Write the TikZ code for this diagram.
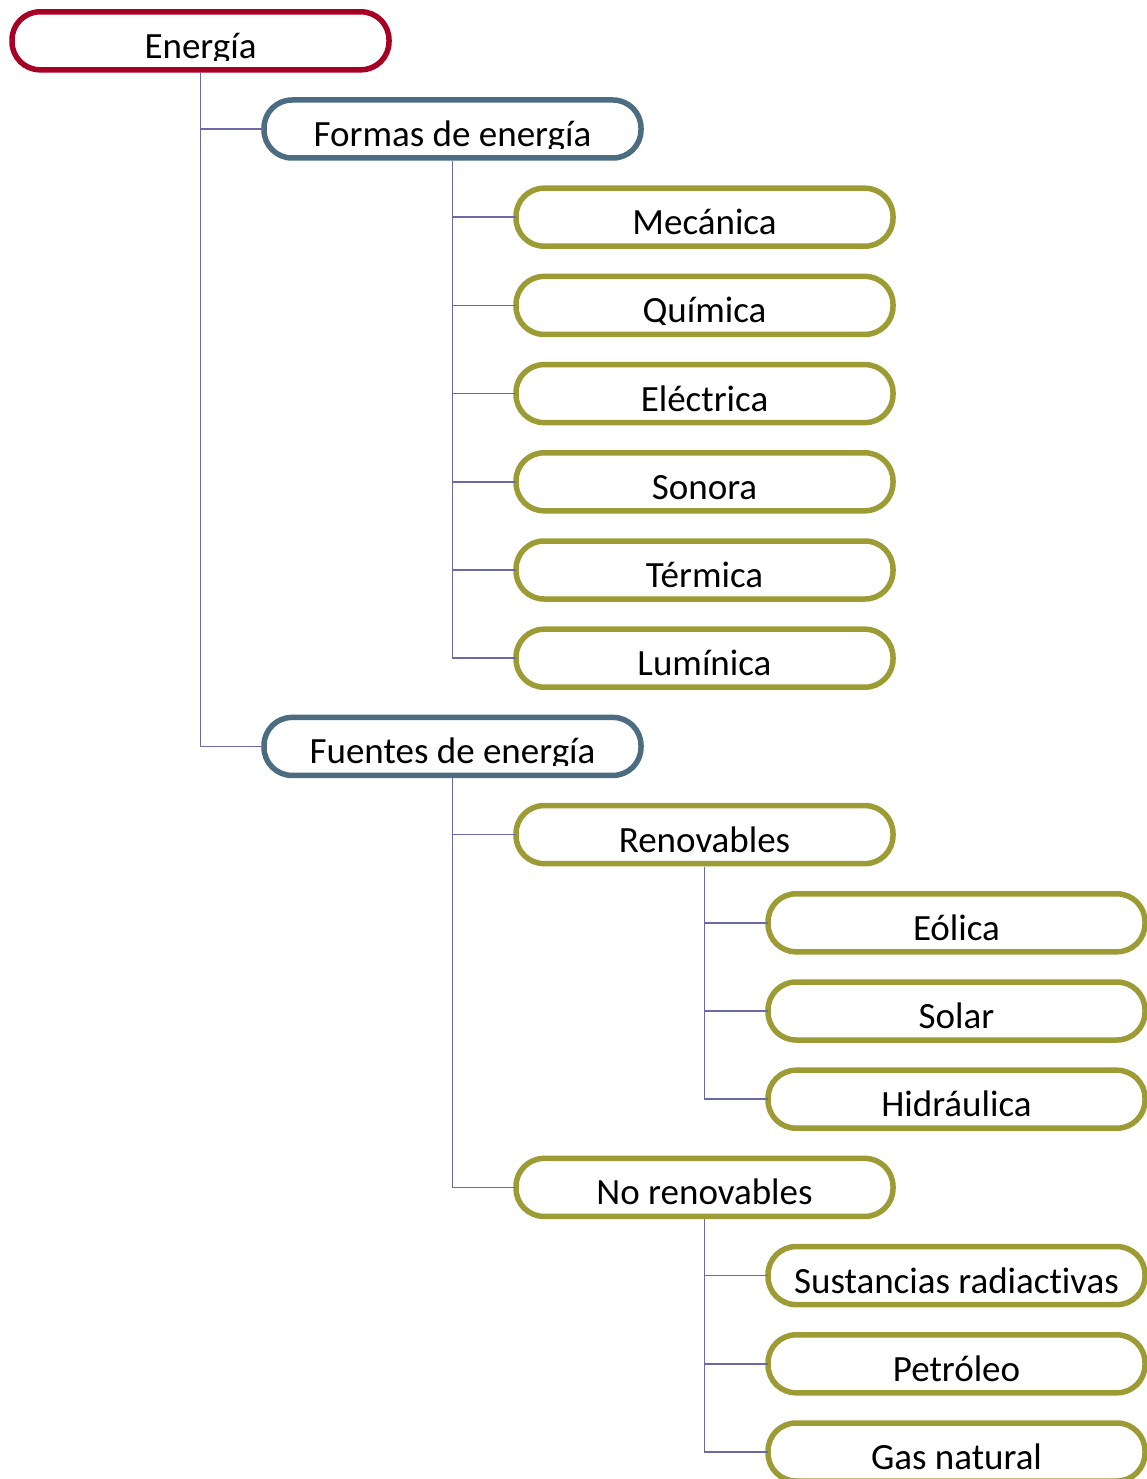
\documentclass[tikz,border=0pt]{standalone}
\usepackage{fontspec}
\setmainfont[Ligatures=NoCommon]{Carlito}
\definecolor{cred}{RGB}{166,0,36}
\definecolor{cslate}{RGB}{76,108,130}
\definecolor{colive}{RGB}{156,155,52}
\definecolor{clink}{RGB}{108,106,166}
\tikzset{
  pill/.style={draw=#1, line width=5.5pt, fill=white, rounded corners=28pt,
    minimum width=377pt, minimum height=58pt, inner sep=0pt, outer sep=0pt},
  lbl/.style={path picture={
      \clip ([xshift=-200pt]path picture bounding box.north) rectangle ([xshift=200pt,yshift=-19.5pt]path picture bounding box.center);
      \node[anchor=base, inner sep=0pt, font=\fontsize{37}{44}\selectfont] at ([yshift=-17.5pt]path picture bounding box.center) {#1};}},
  top/.style={pill=cred, lbl=#1},
  mid/.style={pill=cslate, lbl=#1},
  leaf/.style={pill=colive, lbl=#1},
  link/.style={draw=clink, line width=1.6pt}
}
\begin{document}
\begin{tikzpicture}[x=1pt,y=-1pt]
\useasboundingbox (0,0) rectangle (1147,1479);
\def\p{88.2}
\def\xa{200.5}\def\xb{452.5}\def\xc{704.5}\def\xd{956.5}
\node[top=Energía] (energia) at (\xa,40.8) {};
\node[mid={Formas de energía}] (formas) at (\xb,40.8+\p) {};
\node[leaf=Mecánica] (mec) at (\xc,40.8+2*\p) {};
\node[leaf=Química] (qui) at (\xc,40.8+3*\p) {};
\node[leaf=Eléctrica] (ele) at (\xc,40.8+4*\p) {};
\node[leaf=Sonora] (son) at (\xc,40.8+5*\p) {};
\node[leaf=Térmica] (ter) at (\xc,40.8+6*\p) {};
\node[leaf=Lumínica] (lum) at (\xc,40.8+7*\p) {};
\node[mid={Fuentes de energía}] (fuentes) at (\xb,40.8+8*\p) {};
\node[leaf=Renovables] (ren) at (\xc,40.8+9*\p) {};
\node[leaf=Eólica] (eol) at (\xd,40.8+10*\p) {};
\node[leaf=Solar] (sol) at (\xd,40.8+11*\p) {};
\node[leaf=Hidráulica] (hid) at (\xd,40.8+12*\p) {};
\node[leaf={No renovables}] (noren) at (\xc,40.8+13*\p) {};
\node[leaf={Sustancias radiactivas}] (sus) at (\xd,40.8+14*\p) {};
\node[leaf=Petróleo] (pet) at (\xd,40.8+15*\p) {};
\node[leaf={Gas natural}] (gas) at (\xd,40.8+16*\p) {};
\foreach \c in {formas,fuentes} \draw[link] ([yshift=-3pt]energia.south) |- (\c.west);
\foreach \c in {mec,qui,ele,son,ter,lum} \draw[link] ([yshift=-3pt]formas.south) |- (\c.west);
\foreach \c in {ren,noren} \draw[link] ([yshift=-3pt]fuentes.south) |- (\c.west);
\foreach \c in {eol,sol,hid} \draw[link] ([yshift=-3pt]ren.south) |- (\c.west);
\foreach \c in {sus,pet,gas} \draw[link] ([yshift=-3pt]noren.south) |- (\c.west);
\end{tikzpicture}
\end{document}
